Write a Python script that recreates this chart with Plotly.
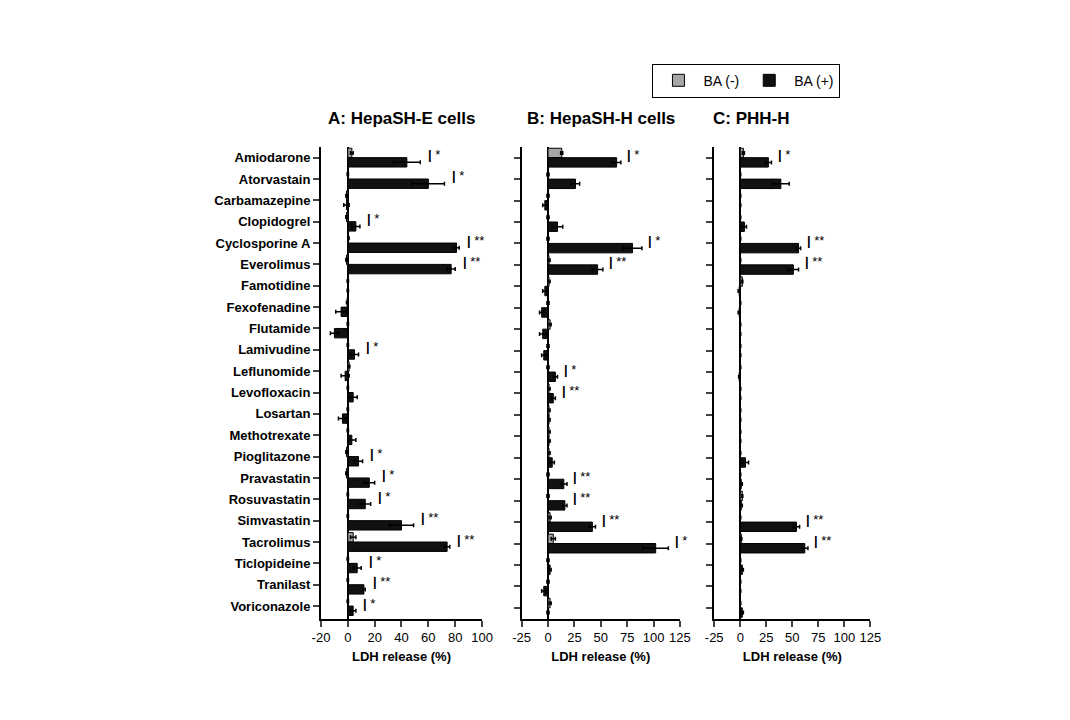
import plotly.graph_objects as go

drugs = ["Amiodarone", "Atorvastain", "Carbamazepine", "Clopidogrel", "Cyclosporine A",
         "Everolimus", "Famotidine", "Fexofenadine", "Flutamide", "Lamivudine",
         "Leflunomide", "Levofloxacin", "Losartan", "Methotrexate", "Pioglitazone",
         "Pravastatin", "Rosuvastatin", "Simvastatin", "Tacrolimus", "Ticlopideine",
         "Tranilast", "Voriconazole"]

# panel A: HepaSH-E
a_neg = [3, 0, -1, -1, 0.5, -1, 0, -0.5, 0, 0, 1, 0, 0, 0, -1, -1, 0, 0, 4, 0, 0, 0]
a_neg_err = [1, 0.5, 0.5, 0.5, 0.5, 0.5, 0.5, 0.5, 0.5, 0.5, 0.5, 0.5, 0.5, 0.5, 0.5, 0.5, 0.5, 0.5, 2, 0.5, 0.5, 0.5]
a_pos = [44, 60, -1, 6, 81, 77, 0, -5, -10, 5, -2, 4, -4, 3, 8, 16, 13, 40, 74, 7, 12, 4]
a_pos_err = [10, 12, 2, 3, 2, 3, 0.5, 4, 3, 3, 3, 3, 3, 3, 3, 4, 4, 9, 2, 3, 1, 2]
a_sig = ["*", "*", "", "*", "**", "**", "", "", "", "*", "", "", "", "", "*", "*", "*", "**", "**", "*", "**", "*"]

# panel B: HepaSH-H
b_neg = [13, 0, 0, 0, 0, 1, 1, 0, 2, 0, 0, 1, 1, 1, 1, 0, 0, 2, 5, 0, 0, 2]
b_neg_err = [1, 1, 1, 1, 1, 1, 1, 1, 1, 1, 1, 1, 1, 1, 1, 1, 1, 1, 2, 1, 1, 1]
b_pos = [65, 26, -3, 9, 80, 47, -3, -6, -5, -4, 7, 5, 1, 1, 4, 15, 16, 42, 102, 2, -4, 0]
b_pos_err = [4, 4, 2, 5, 9, 5, 2, 2, 3, 2, 2, 2, 1, 1, 2, 3, 2, 3, 12, 1, 2, 1]
b_sig = ["*", "", "", "", "*", "**", "", "", "", "", "*", "**", "", "", "", "**", "**", "**", "*", "", "", ""]

# panel C: PHH-H
c_neg = [3, 0, 0, 0, 0, 0, 2, 0, 0, 0, 0, 0, 0, 0, 0, 0, 2, 0, 1, 0, 0, 0]
c_neg_err = [1, 0.5, 0.5, 0.5, 0.5, 0.5, 0.5, 0.5, 0.5, 0.5, 0.5, 0.5, 0.5, 0.5, 0.5, 0.5, 0.5, 0.5, 0.5, 0.5, 0.5, 0.5]
c_pos = [27, 39, 0, 4, 56, 51, -1, -1, 0, 0, -1, 0, 0, 0, 5, 1, 1, 54, 62, 2, 0, 2]
c_pos_err = [3, 8, 0.5, 2, 2, 5, 1, 1, 0.5, 0.5, 0.5, 0.5, 0.5, 0.5, 3, 1, 1, 3, 3, 1, 0.5, 1]
c_sig = ["*", "", "", "", "**", "**", "", "", "", "", "", "", "", "", "", "", "", "**", "**", "", "", ""]

titles = ["A: HepaSH-E cells", "B: HepaSH-H cells", "C: PHH-H"]
x_ranges = [[-20, 100], [-25, 125], [-25, 125]]
x_ticks = [[-20, 0, 20, 40, 60, 80, 100], [-25, 0, 25, 50, 75, 100, 125], [-25, 0, 25, 50, 75, 100, 125]]
x_domains = [[0.2925, 0.443], [0.480, 0.628], [0.660, 0.806]]
panels = [(a_neg, a_neg_err, a_pos, a_pos_err, a_sig),
          (b_neg, b_neg_err, b_pos, b_pos_err, b_sig),
          (c_neg, c_neg_err, c_pos, c_pos_err, c_sig)]

FONT = "Liberation Sans, Arial"
fig = go.Figure()
annotations = []

for i, (neg, neg_e, pos, pos_e, sig) in enumerate(panels):
    n = "" if i == 0 else str(i + 1)
    xa, ya = "x" + n, "y" + n
    fig.add_trace(go.Bar(y=drugs, x=neg, orientation="h", name="BA (-)", xaxis=xa, yaxis=ya,
                         marker=dict(color="#a6a6a6", line=dict(color="black", width=1)),
                         error_x=dict(type="data", array=neg_e, color="black", thickness=1.5, width=2),
                         showlegend=(i == 0), legendgroup="neg"))
    fig.add_trace(go.Bar(y=drugs, x=pos, orientation="h", name="BA (+)", xaxis=xa, yaxis=ya,
                         marker=dict(color="#111111", line=dict(color="black", width=1)),
                         error_x=dict(type="data", array=pos_e, color="black", thickness=1.5, width=2),
                         showlegend=(i == 0), legendgroup="pos"))
    for d, v, e, s in zip(drugs, pos, pos_e, sig):
        if s:
            annotations.append(dict(x=max(v, 0) + e + 4, y=d, xref=xa, yref=ya, xanchor="left",
                                    yshift=3, showarrow=False,
                                    text="<span style='color:black'><b>|</b> " + s + "</span>",
                                    font=dict(size=13, family=FONT, color="#000000")))
    annotations.append(dict(x=sum(x_domains[i]) / 2, y=0.83, xref="paper", yref="paper",
                            text="<b>" + titles[i] + "</b>", showarrow=False, yanchor="bottom",
                            font=dict(size=17, family=FONT, color="black")))
    ax = dict(domain=x_domains[i], range=x_ranges[i], tickvals=x_ticks[i],
              ticktext=[str(t) for t in x_ticks[i]], showline=True, automargin=False,
              linecolor="black", linewidth=2, ticks="outside", tickwidth=2, ticklen=6,
              zeroline=True, zerolinecolor="black", zerolinewidth=1.5, showgrid=False,
              anchor=ya, title=dict(text="<b>LDH release (%)</b>", font=dict(size=13, family=FONT), standoff=8),
              tickfont=dict(size=13, family=FONT, color="black"))
    yax = dict(domain=[0.152, 0.807], autorange="reversed", showline=True, linecolor="black",
               linewidth=2, ticks="outside", tickwidth=2, ticklen=6, showgrid=False,
               anchor=xa, showticklabels=(i == 0), automargin=False,
               tickvals=drugs, ticktext=["<b>" + d + "</b>" for d in drugs],
               tickfont=dict(size=13, family=FONT, color="black"))
    fig.layout["xaxis" + n] = ax
    fig.layout["yaxis" + n] = yax

fig.update_layout(
    width=1070, height=720, margin=dict(l=0, r=0, t=0, b=0),
    plot_bgcolor="white", paper_bgcolor="white",
    barmode="group", bargap=0.12, bargroupgap=0,
    font=dict(family=FONT, color="black"),
    annotations=annotations,
    legend=dict(orientation="h", x=0.778, xanchor="right", y=0.899, yanchor="middle",
                bordercolor="black", borderwidth=1, font=dict(size=14, family=FONT),
                itemwidth=40, traceorder="normal"),
)
fig.write_html("out.html")
